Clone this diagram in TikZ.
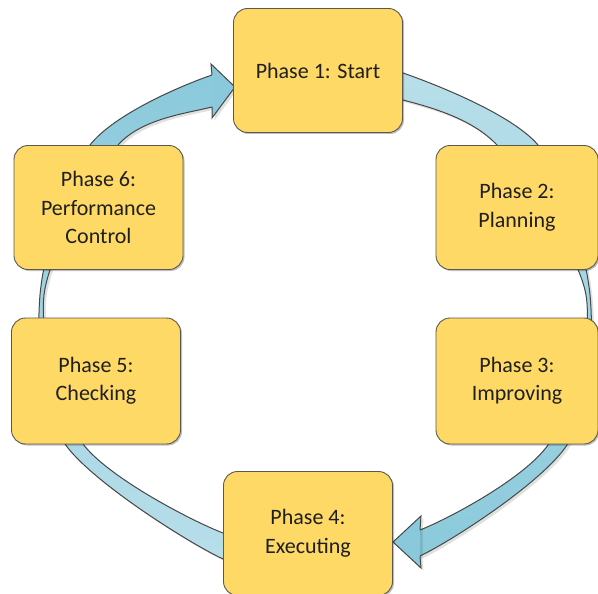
\documentclass[tikz,border=0pt]{standalone}
\usepackage{fontspec}
\setmainfont{Carlito}
\usetikzlibrary{shadows}
\definecolor{boxfill}{HTML}{FFD966}
\definecolor{boxline}{HTML}{5C5850}
\definecolor{ringlight}{HTML}{B9DFEA}
\definecolor{ringdark}{HTML}{89C9DB}
\definecolor{ringline}{HTML}{474747}
\definecolor{txt}{HTML}{1F1F1F}

% outer and inner edges of the cycle band
\def\ringOuter{plot[smooth cycle] coordinates {(315,68) (403,73) (538,145) (590,295) (567,445) (420,556) (320,563) (223,559) (65,444) (40,295) (90,145) (212,75)}}
\def\ringInner{plot[smooth cycle] coordinates {(315,97) (403,100) (497,145) (586,295) (548,445) (420,530) (320,536) (223,533) (83,444) (44,295) (118,145) (212,107)}}
% the two halves of the band, each ending at its arrow head
\def\leftHalf{(-10,-10) -- (212,-10) -- (212,300) -- (315,300) -- (315,610) -- (-10,610) -- cycle}
\def\rightHalf{(315,-10) -- (610,-10) -- (610,610) -- (420,610) -- (420,300) -- (315,300) -- cycle}

\begin{document}
\begin{tikzpicture}[x=1pt,y=-1pt,
  phasebox/.style={draw=boxline, line width=0.9pt, fill=boxfill,
    rounded corners=14pt, minimum width=169pt, minimum height=124pt,
    align=center, text=txt, font=\fontsize{22}{28.5}\selectfont, inner sep=0pt,
    drop shadow={shadow xshift=1.5pt, shadow yshift=-1.5pt, opacity=0.25, fill=black}},
  ringedge/.style={draw=ringline, line width=1pt},
  ringshadow/.style={fill=black, opacity=0.12, even odd rule},
  headfill/.style={fill=ringdark, draw=ringline, line width=1pt, line join=miter}]

\useasboundingbox (0,0) rectangle (598,594);
\fill[white] (0,0) rectangle (598,594);

% left half: from Phase 4 up to Phase 1
\begin{scope}
  \clip \leftHalf;
  \fill[ringshadow, shift={(2.5,2.5)}] \ringOuter \ringInner;
  \shade[even odd rule, top color=ringdark, bottom color=ringlight] \ringOuter \ringInner;
  \draw[ringedge] \ringOuter;
  \draw[ringedge] \ringInner;
\end{scope}

% right half: from Phase 1 down to Phase 4
\begin{scope}
  \clip \rightHalf;
  \fill[ringshadow, shift={(2.5,2.5)}] \ringOuter \ringInner;
  \shade[even odd rule, top color=ringlight, bottom color=ringdark] \ringOuter \ringInner;
  \draw[ringedge] \ringOuter;
  \draw[ringedge] \ringInner;
\end{scope}

% arrow heads
\fill[black, opacity=0.12, shift={(2.5,2.5)}] (212,75) -- (211,64) -- (235,87) -- (212,118) -- (212,107);
\fill[black, opacity=0.12, shift={(2.5,2.5)}] (420,530) -- (421,516) -- (393,542) -- (421,568) -- (420,556);
\fill[ringdark] (212,75) -- (211,64) -- (235,87) -- (212,118) -- (212,107) -- cycle;
\draw[ringedge, line join=miter] (212,75) -- (211,64) -- (235,87) -- (212,118) -- (212,107);
\fill[ringdark] (420,530) -- (421,516) -- (393,542) -- (421,568) -- (420,556) -- cycle;
\draw[ringedge, line join=miter] (420,530) -- (421,516) -- (393,542) -- (421,568) -- (420,556);

% phases
\node[phasebox] (p1) at (318,70.5) {Phase 1: Start};
\node[phasebox, minimum width=162pt] (p2) at (517,207.5) {Phase 2:\\Planning};
\node[phasebox, minimum width=162pt, minimum height=126pt] (p3) at (517,381) {Phase 3:\\Improving};
\node[phasebox] (p4) at (308,533.5) {Phase 4:\\Executing};
\node[phasebox, minimum height=126pt] (p5) at (96,381) {Phase 5:\\Checking};
\node[phasebox] (p6) at (98.5,207.5) {Phase 6:\\Performance\\Control};

\end{tikzpicture}
\end{document}
